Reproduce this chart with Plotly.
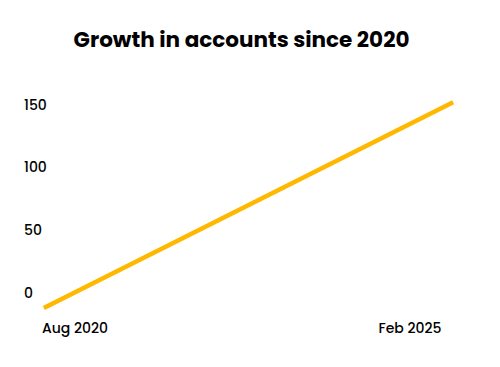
import plotly.graph_objects as go

dates = ["2020-03-01", "2025-09-01"]
accounts = [-12, 152]
x_tick_vals = ["2020-08-01", "2025-02-01"]
x_tick_text = ["Aug 2020", "Feb 2025"]
y_tick_vals = [0, 50, 100, 150]

FONT = "Poppins, Inter, 'Open Sans', sans-serif"
TICKFONT = dict(family=FONT, size=14, color="#000000", weight=500)

fig = go.Figure()
fig.add_trace(go.Scatter(
    x=dates, y=accounts, mode="lines",
    line=dict(color="#FFB800", width=4.5),
    hoverinfo="skip", showlegend=False,
))

fig.update_layout(
    width=500, height=367,
    margin=dict(l=13, r=28, t=78, b=57),
    paper_bgcolor="white", plot_bgcolor="white",
    title=dict(text="<b>Growth in accounts since 2020</b>", x=233.5 / 500, xanchor="center",
               y=1 - 31 / 367, yanchor="middle",
               font=dict(family=FONT, size=21.5, color="#000000")),
    font=dict(family=FONT, size=14, color="#000000"),
    xaxis=dict(type="date", range=["2019-11-10", "2026-01-11"],
               tickvals=x_tick_vals, ticktext=x_tick_text, tickfont=TICKFONT,
               showgrid=False, zeroline=False, showline=False, ticks=""),
    yaxis=dict(range=[-20, 165], tickvals=y_tick_vals, tickfont=TICKFONT,
               ticklabelposition="inside", showgrid=False, zeroline=False,
               showline=False, ticks=""),
)

fig.write_html("out.html")
